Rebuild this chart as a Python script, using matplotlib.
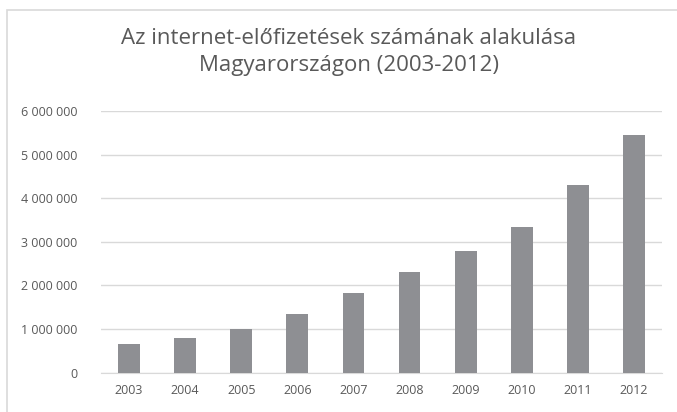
import matplotlib.pyplot as plt
from matplotlib.patches import Rectangle
from matplotlib.ticker import FuncFormatter

years = ["2003", "2004", "2005", "2006", "2007", "2008", "2009", "2010", "2011", "2012"]
subscriptions = [658000, 789000, 1010000, 1340000, 1820000, 2300000, 2790000, 3340000, 4310000, 5440000]
yticks = [0, 1000000, 2000000, 3000000, 4000000, 5000000, 6000000]

title = "Az internet-előfizetések számának alakulása\nMagyarországon (2003-2012)"

text_color = "#595959"
plt.rcParams["font.family"] = ["Open Sans", "DejaVu Sans"]

fig = plt.figure(figsize=(6.77, 4.12), dpi=100)
ax = fig.add_axes([101 / 677, 1 - 372.7 / 412, (662 - 101) / 677, (372.7 - 111) / 412])

ax.bar(range(len(years)), subscriptions, width=0.39, color="#8e8f93", zorder=3)

ax.set_xlim(-0.5, len(years) - 0.5)
ax.set_ylim(0, 6000000)
ax.set_yticks(yticks)
ax.yaxis.set_major_formatter(FuncFormatter(lambda v, p: f"{int(v):,}".replace(",", " ")))
ax.set_xticks(range(len(years)))
ax.set_xticklabels(years)

ax.grid(axis="y", color="#d9d9d9", linewidth=1, zorder=0)
for s in ["top", "right", "left"]:
    ax.spines[s].set_visible(False)
ax.spines["bottom"].set_color("#d9d9d9")
ax.tick_params(axis="both", length=0, colors=text_color, labelsize=9)
ax.tick_params(axis="y", pad=17)
ax.tick_params(axis="x", pad=8)

fig.text(0.515, 1 - 52 / 412, title, ha="center", va="center", fontsize=16,
         color=text_color, linespacing=1.35)

# outer chart border (only top and left visible in the crop)
fig.patches.append(Rectangle((7 / 677, -0.1), 1.2, 1.1 - 10 / 412, transform=fig.transFigure,
                             fill=False, edgecolor="#d9d9d9", linewidth=1.2))

fig.savefig("out.png", dpi=100)
